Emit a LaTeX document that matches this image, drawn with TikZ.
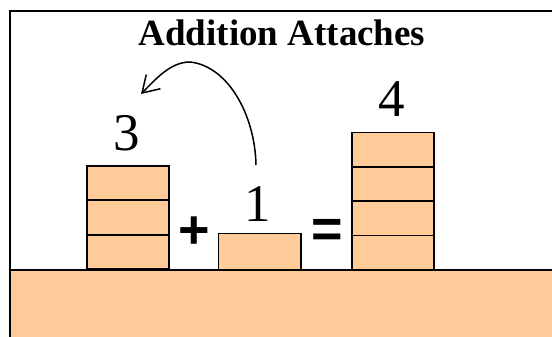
\documentclass[tikz,border=0pt]{standalone}
\usepackage{fontspec}
\setmainfont{Liberation Serif}
\newfontfamily\arialf{Liberation Sans}
\usetikzlibrary{arrows.meta}
\definecolor{peach}{RGB}{255,204,153}
\tikzset{
  block/.style={draw=black, line width=1.8pt, fill=peach, minimum width=82.5pt, minimum height=34.5pt, inner sep=0pt, outer sep=0pt},
  digit/.style={font=\fontsize{53}{53}\selectfont, inner sep=0pt, anchor=base},
  opsym/.style={font=\arialf\bfseries\fontsize{54}{54}\selectfont, inner sep=0pt, anchor=base},
}
\begin{document}
\begin{tikzpicture}[x=1pt,y=-1pt]
\useasboundingbox (0,0) rectangle (552,337);
\clip (0,0) rectangle (552,337);
% ground
\fill[peach] (9.5,269.5) rectangle (570,350);
\draw[line width=2pt] (9.5,269.5) -- (570,269.5);
% frame
\draw[line width=2pt] (9.5,350) -- (9.5,11) -- (570,11);
% title
\node[font=\bfseries\fontsize{37}{37}\selectfont, inner sep=0pt, anchor=base] (title) at (282,46) {Addition Attaches};
% stack of three
\node[block] (a1) at (128,252) {};
\node[block] (a2) at (128,217.4) {};
\node[block] (a3) at (128,183) {};
\node[digit] (n3) at (127,150) {3};
% plus
\node[opsym] (plus) at (194,248) {+};
% single block
\node[block, minimum height=36pt] (b1) at (259.7,251.5) {};
\node[digit] (n1) at (258,221.5) {1};
% equals
\node[opsym] (eq) at (327,247) {=};
% stack of four
\node[block] (c1) at (393,252.5) {};
\node[block] (c2) at (393,218.3) {};
\node[block] (c3) at (393,184) {};
\node[block] (c4) at (393,149.7) {};
\node[digit] (n4) at (392,117) {4};
% arrow
\coordinate (arrstart) at (256,165);
\coordinate (arrtop) at (190,62);
\coordinate (arrend) at (141,94);
\draw[line width=1.5pt, -{Straight Barb[length=16pt,width=20pt,line width=1.5pt]}]
  (arrstart) .. controls (255,115) and (228,66) .. (arrtop)
  .. controls (170,62) and (155,80) .. (arrend);
\end{tikzpicture}
\end{document}
